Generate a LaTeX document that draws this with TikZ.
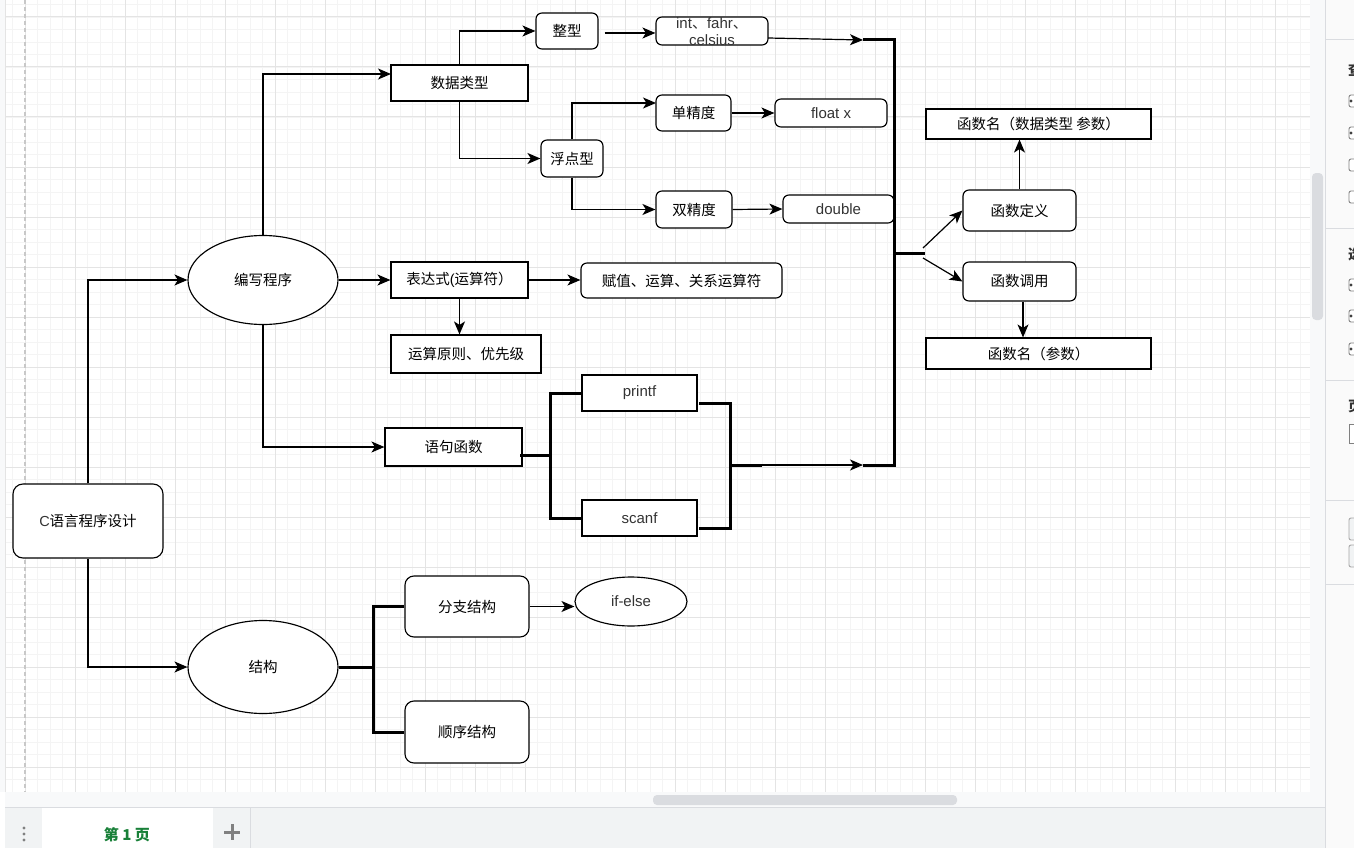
\documentclass[tikz,border=0pt]{standalone}
\usepackage{fontspec}
\setmainfont{Liberation Sans}
\newfontfamily\cjk{Noto Sans CJK SC}
\usetikzlibrary{arrows.meta,shapes.geometric}
\definecolor{gminor}{HTML}{F4F4F4}
\definecolor{gmajor}{HTML}{E4E4E4}
\definecolor{uibg}{HTML}{F8F9FA}
\definecolor{tabbg}{HTML}{F1F3F4}
\definecolor{uiline}{HTML}{DADCE0}
\definecolor{panelbg}{HTML}{FAFAFA}
\definecolor{tabgreen}{HTML}{188038}
\definecolor{txtgray}{HTML}{333333}
\definecolor{pageline}{HTML}{C8C8C8}
\begin{document}
\begin{tikzpicture}[x=1pt,y=-1pt,
  ln/.style={line width=1.2pt, draw=black},
  arr/.style={ln, -{Stealth[length=13pt,width=11pt,inset=3.5pt]}},
  thk/.style={line width=3pt, draw=black, line join=miter},
  box/.style={draw=black, line width=1.15pt, fill=white, inner sep=0pt, align=center},
  rbox/.style={box, rounded corners=6pt},
  zh/.style={font=\cjk\fontsize{14.5}{17}\selectfont, text=black},
  en/.style={font=\fontsize{15}{17}\selectfont, text=txtgray},
  gmin/.style={draw=gminor, line width=0.8pt},
  gmaj/.style={draw=gmajor, line width=1pt},
]
\useasboundingbox (0,0) rectangle (1354,848);
\clip (0,0) rectangle (1354,848);
\fill[white] (0,0) rectangle (1354,848);
% ---------- editor chrome ----------
\fill[uibg] (0,0) rectangle (5,792);
\foreach \i in {0,...,103} \draw[gmin] ({12.5+12.5*\i},0) -- ({12.5+12.5*\i},792);
\foreach \i in {0,...,62} \draw[gmin] (5,{4.5+12.5*\i}) -- (1310,{4.5+12.5*\i});
\foreach \i in {0,...,25} \draw[gmaj] ({25+50*\i},0) -- ({25+50*\i},792);
\foreach \i in {0,...,15} \draw[gmaj] (5,{17+50*\i}) -- (1310,{17+50*\i});
\draw[gmajor, line width=1pt] (5,0) -- (5,848);
\draw[pageline, line width=1.3pt, dash pattern=on 4pt off 3pt] (25,0) -- (25,792);
% scroll areas
\fill[uibg] (5,792) rectangle (1325,807);
\fill[uibg] (1310,0) rectangle (1325,792);
\fill[uiline, rounded corners=4pt] (653,795) rectangle (957,805);
\fill[uiline, rounded corners=4pt] (1312,173) rectangle (1323,320);
% tab bar
\fill[tabbg] (5,807) rectangle (1325,848);
\draw[uiline, line width=1pt] (5,807.5) -- (1325,807.5);
\fill[white] (42,808) rectangle (213,848);
\draw[uiline, line width=1pt] (250,808) -- (250,848);
\foreach \yy in {828,834,840} \fill[gray] (24,\yy) circle (1.6);
\node[font=\cjk\bfseries\fontsize{15}{17}\selectfont, text=tabgreen] (tab) at (127,835) {第 1 页};
\draw[gray, line width=3pt] (224,832) -- (240,832) (232,824) -- (232,840);
% right panel
\fill[panelbg] (1325,0) rectangle (1354,848);
\draw[uiline, line width=1pt] (1325.5,0) -- (1325.5,848);
\foreach \yy in {40,228,380,500,584} \draw[uiline, line width=1pt] (1325,\yy) -- (1354,\yy);
\node[font=\cjk\bfseries\fontsize{14}{16}\selectfont, text=txtgray, anchor=west, inner sep=0pt] (p1) at (1348,70) {查};
\node[font=\cjk\bfseries\fontsize{14}{16}\selectfont, text=txtgray, anchor=west, inner sep=0pt] (p2) at (1348,254) {选};
\node[font=\cjk\bfseries\fontsize{14}{16}\selectfont, text=txtgray, anchor=west, inner sep=0pt] (p3) at (1348,406) {页};
\foreach \yy in {101,133,285,316,349} {
  \draw[gray, fill=white, rounded corners=2pt, line width=0.9pt] (1349,{\yy-6}) rectangle (1362,{\yy+6});
  \fill[black!75] (1351,\yy) circle (1.6);
}
\foreach \yy in {165,197}
  \draw[gray, fill=white, rounded corners=2pt, line width=0.9pt] (1349,{\yy-6}) rectangle (1362,{\yy+6});
\draw[gray, fill=white, line width=0.9pt] (1349,424) rectangle (1362,443);
\draw[gray!70, fill=tabbg, rounded corners=2pt, line width=0.9pt] (1349,518) rectangle (1362,540);
\draw[gray!70, fill=tabbg, rounded corners=2pt, line width=0.9pt] (1349,545) rectangle (1362,567);
% ---------- diagram nodes ----------
\node[box, rounded corners=10pt, zh, minimum width=150pt, minimum height=74pt] (c) at (88,521) {{\rmfamily\color{txtgray}C}语言程序设计};
\node[box, ellipse, zh, minimum width=150pt, minimum height=89pt] (bx) at (263,280) {编写程序};
\node[box, ellipse, zh, minimum width=150pt, minimum height=93pt] (jg) at (263,667) {结构};
\node[box, zh, minimum width=137pt, minimum height=36pt] (sjlx) at (459.5,83) {数据类型};
\node[rbox, zh, minimum width=62pt, minimum height=36pt] (zx) at (567,31) {整型};
\node[rbox, minimum width=112pt, minimum height=28pt] (intn) at (712,31) {};
\begin{scope}
\clip (intn.south west) rectangle (intn.north east);
\node[en, align=center, inner sep=0pt] (inttxt) at (712,31.5) {int{\cjk 、}fahr{\cjk 、}\\celsius};
\end{scope}
\node[rbox, zh, minimum width=75pt, minimum height=36pt] (dan) at (693.5,113) {单精度};
\node[rbox, en, minimum width=112pt, minimum height=28pt] (flt) at (831,113) {float x};
\node[rbox, zh, minimum width=62pt, minimum height=37pt] (fd) at (572,158.5) {浮点型};
\node[rbox, zh, minimum width=76pt, minimum height=37pt] (shuang) at (694,209.5) {双精度};
\node[rbox, en, minimum width=111pt, minimum height=28pt] (dbl) at (838.5,209) {double};
\node[box, zh, minimum width=137pt, minimum height=36pt] (bds) at (459.5,280) {表达式{\rmfamily (}运算符）};
\node[rbox, zh, minimum width=201pt, minimum height=35pt] (fz) at (681.5,280.5) {赋值、运算、关系运算符};
\node[box, zh, minimum width=150pt, minimum height=38pt] (ysyz) at (466,354) {运算原则、优先级};
\node[box, en, minimum width=115pt, minimum height=36pt] (pf) at (639.5,393) {printf};
\node[box, en, minimum width=115pt, minimum height=36pt] (sf) at (639.5,518) {scanf};
\node[box, zh, minimum width=137pt, minimum height=38pt] (yjhs) at (453.5,447) {语句函数};
\node[box, zh, minimum width=225pt, minimum height=30pt] (hmdef) at (1038.5,124) {函数名（数据类型 参数）};
\node[rbox, zh, minimum width=113pt, minimum height=41pt] (dy) at (1019.5,210.5) {函数定义};
\node[rbox, zh, minimum width=113pt, minimum height=39pt] (dyong) at (1019.5,281.5) {函数调用};
\node[box, zh, minimum width=225pt, minimum height=31pt] (hmcall) at (1038.5,353.5) {函数名（参数）};
\node[box, rounded corners=9pt, zh, minimum width=124pt, minimum height=61pt] (fzjg) at (467,606.5) {分支结构};
\node[box, rounded corners=9pt, zh, minimum width=124pt, minimum height=62pt] (sxjg) at (467,732) {顺序结构};
\node[box, ellipse, en, minimum width=112pt, minimum height=49pt] (ife) at (631,601.5) {if-else};
% ---------- helper coordinates ----------
\coordinate (sjin) at (391,74);
\coordinate (danin) at (656,103);
\coordinate (intout) at (768,38);
\coordinate (bt) at (863,40);
\coordinate (busT) at (894,40);
\coordinate (busM) at (894,253);
\coordinate (busB) at (894,465);
\coordinate (busBL) at (863,465);
\coordinate (busMo) at (925,253);
\coordinate (a1) at (923,248);
\coordinate (a2) at (923,258);
\coordinate (yjout) at (520,455);
\coordinate (br1) at (550,455);
\coordinate (pro) at (699,403);
\coordinate (sco) at (699,528);
\coordinate (br2) at (730,465);
\coordinate (br2e) at (762,465);
\coordinate (br3) at (373,667);
% ---------- connectors ----------
\draw[arr] (c.north) |- (bx.west);
\draw[arr] (c.south) |- (jg.west);
\draw[arr] (bx.north) |- (sjin);
\draw[arr] (bx.east) -- (bds.west);
\draw[arr] (bx.south) |- (yjhs.west);
\draw[arr] (sjlx.north) |- (zx.west);
\draw[arr] (sjlx.south) |- (fd.west);
\draw[arr] ([xshift=6pt,yshift=-2pt]zx.east) -- ([yshift=-2pt]intn.west);
\draw[arr] (intout) -- (bt);
\draw[arr] (fd.north) |- (danin);
\draw[arr] (fd.south) |- (shuang.west);
\draw[arr] (dan.east) -- (flt.west);
\draw[arr] (shuang.east) -- (dbl.west);
\draw[arr] (bds.east) -- (bds.east -| fz.west);
\draw[arr] (bds.south) -- (bds.south |- ysyz.north);
\draw[thk] (yjout) -- (br1);
\draw[thk] (pf.west) -| (br1) |- (sf.west);
\draw[thk] (pro) -| (br2) |- (sco);
\draw[thk] (br2) -- (br2e);
\draw[arr] (br2e) -- (busBL);
\draw[thk] (busBL) -- (busB) -- (busT) -- (bt);
\draw[thk] (busM) -- (busMo);
\draw[arr] (a1) -- (dy.west);
\draw[arr] (a2) -- (dyong.west);
\draw[arr] (dy.north) -- (dy.north |- hmdef.south);
\draw[arr] ([xshift=3.5pt]dyong.south) -- ([xshift=3.5pt]dyong.south |- hmcall.north);
\draw[thk] (jg.east) -- (br3);
\draw[thk] (fzjg.west) -| (br3) |- (sxjg.west);
\draw[arr] (fzjg.east) -- (fzjg.east -| ife.west);
\end{tikzpicture}
\end{document}
